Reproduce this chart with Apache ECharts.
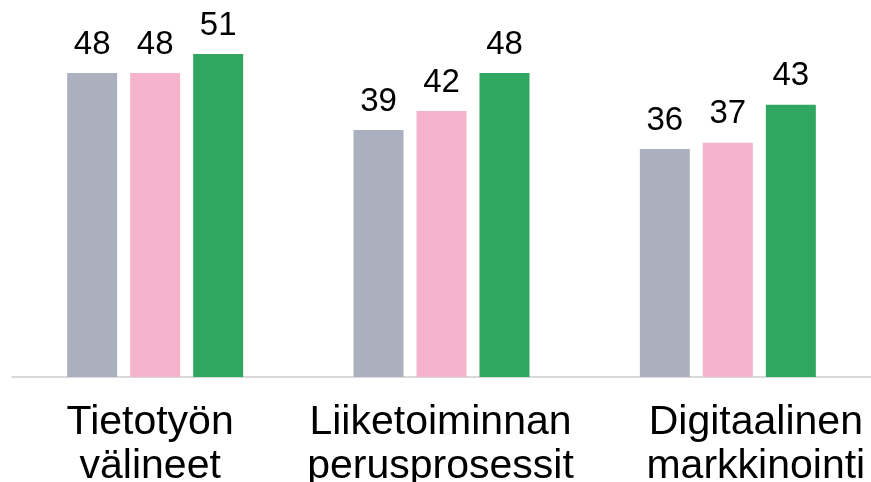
<!DOCTYPE html>
<html>
<head>
<meta charset="utf-8">
<script src="https://cdn.jsdelivr.net/npm/echarts@6/dist/echarts.min.js"></script>
<style>
  html, body { margin: 0; padding: 0; background: #fff; }
  #chart { width: 871px; height: 482px; }
</style>
</head>
<body>
<div id="chart"></div>
<script>
const categories = ['Tietotyön\nvälineet', 'Liiketoiminnan\nperusprosessit', 'Digitaalinen\nmarkkinointi'];
const seriesA = [48, 39, 36];
const seriesB = [48, 42, 37];
const seriesC = [51, 48, 43];

const colors = ['#aab0bd', '#f5b4cc', '#31a660'];
// small horizontal nudges of the category labels, as in the original slide
const labelPadding = [[0, 10, 0, 0], [0, 2, 0, 0], [0, 0, 0, 56]];

const chart = echarts.init(document.getElementById('chart'));

function barSeries(data, color) {
  return {
    type: 'bar',
    data: data,
    barWidth: 50,
    barGap: '26%',
    itemStyle: { color: color },
    label: {
      show: true,
      position: 'top',
      distance: 12,
      fontFamily: 'Liberation Sans, Arial, sans-serif',
      fontSize: 33,
      color: '#000',
    },
  };
}

chart.setOption({
  animation: false,
  grid: { left: 12, right: 0, top: 54, bottom: 105, containLabel: false, outerBoundsMode: 'none' },
  xAxis: {
    type: 'category',
    data: categories.map((c, i) => ({ value: c, textStyle: { padding: labelPadding[i] } })),
    axisLine: { lineStyle: { color: '#d9d9d9', width: 2 } },
    axisTick: { show: false },
    axisLabel: {
      interval: 0,
      margin: 24,
      fontFamily: 'Liberation Sans, Arial, sans-serif',
      fontSize: 41,
      lineHeight: 44,
      color: '#000',
    },
  },
  yAxis: {
    type: 'value',
    min: 0,
    max: 51,
    show: false,
    splitLine: { show: false },
  },
  series: [
    barSeries(seriesA, colors[0]),
    barSeries(seriesB, colors[1]),
    barSeries(seriesC, colors[2]),
  ],
});
</script>
</body>
</html>
